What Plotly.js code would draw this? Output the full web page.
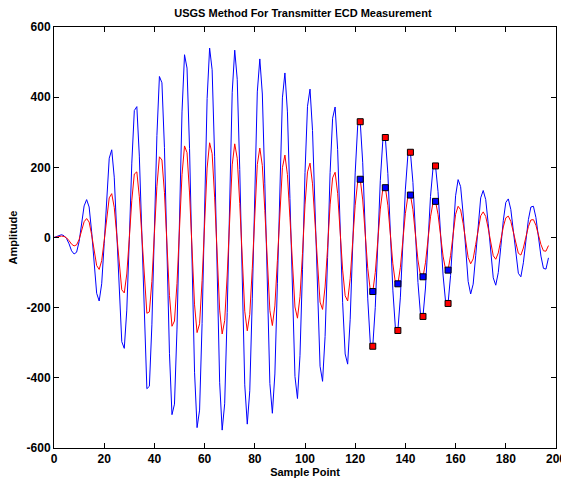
<!DOCTYPE html>
<html>
<head>
<meta charset="utf-8">
<script src="https://cdn.plot.ly/plotly-3.0.1.min.js"></script>
<style>
  html, body { margin: 0; padding: 0; background: #ffffff; }
  #chart { width: 561px; height: 480px; }
</style>
</head>
<body>
<div id="chart"></div>
<script>
// Sample index
const samplePoints = Array.from({length: 198}, (_, i) => i);

// Blue trace (transmitted signal) values
const blueSignal = [
  0, 3, 7, 8, 5, -3, -18, -38, -47, -42,
  -12, 38, 90, 108, 87, 16, -79, -159, -181, -132,
  -17, 121, 226, 250, 172, 13, -167, -297, -316, -207,
  -6, 212, 362, 373, 232, -7, -256, -431, -424, -249,
  21, 291, 459, 441, 256, -39, -330, -505, -475, -261,
  58, 358, 521, 483, 254, -77, -384, -542, -492, -245,
  96, 396, 540, 478, 230, -113, -414, -549, -474, -214,
  129, 414, 534, 451, 194, -145, -420, -532, -437, -175,
  157, 415, 509, 409, 153, -168, -416, -501, -389, -132,
  175, 398, 469, 358, 111, -182, -396, -459, -337, -92,
  185, 374, 423, 305, 74, -188, -367, -410, -282, -57,
  185, 340, 372, 251, 42, -186, -332, -361, -233, -28,
  184, 320, 330, 213, 21, -175, -299, -310, -199, -19,
  162, 276, 285, 183, 18, -150, -257, -265, -170, -17,
  138, 236, 243, 157, 15, -128, -218, -225, -144, -14,
  117, 198, 204, 131, 13, -107, -182, -188, -108, 12,
  119, 165, 145, 67, -37, -125, -161, -133, -52, 41,
  113, 134, 108, 39, -47, -115, -136, -100, -28, 48,
  100, 110, 80, 18, -52, -102, -112, -72, -10, 51,
  87, 89, 57, 3, -53, -88, -90, -58
];

// Red trace (reference signal) values
const redSignal = [
  0, 2, 4, 4, 3, -1, -9, -19, -24, -21,
  -6, 19, 45, 54, 44, 8, -40, -80, -91, -66,
  -9, 61, 113, 125, 86, 7, -84, -149, -158, -104,
  -3, 106, 181, 187, 116, -4, -128, -216, -212, -125,
  11, 146, 230, 221, 128, -20, -165, -253, -238, -131,
  29, 179, 261, 242, 127, -39, -192, -271, -246, -123,
  48, 198, 270, 239, 115, -57, -207, -275, -237, -107,
  65, 207, 267, 226, 97, -73, -210, -266, -219, -88,
  79, 208, 255, 205, 77, -84, -208, -251, -195, -66,
  88, 199, 235, 179, 56, -91, -198, -230, -169, -46,
  93, 187, 212, 153, 37, -94, -184, -205, -141, -29,
  93, 170, 186, 126, 21, -93, -166, -181, -117, -14,
  92, 160, 166, 107, 11, -88, -150, -155, -100, -10,
  81, 138, 143, 92, 9, -75, -129, -133, -85, -9,
  69, 118, 122, 79, 8, -64, -109, -113, -72, -7,
  59, 99, 103, 66, 7, -53, -91, -93, -51, 9,
  66, 89, 79, 40, -12, -57, -75, -61, -20, 27,
  62, 73, 60, 26, -18, -52, -62, -44, -8, 30,
  56, 61, 46, 15, -20, -45, -50, -30, 1, 31,
  50, 51, 35, 8, -20, -38, -39, -23
];

// Marked measurement points
const markerX = [122, 127, 132, 137, 142, 147, 152, 157];
const blueMarkerY = [330, -310, 285, -265, 243, -225, 204, -188];
const redMarkerY = [166, -154, 142, -132, 121, -112, 103, -93];

const titleText = 'USGS Method For Transmitter ECD Measurement';
const xTitle = 'Sample Point';
const yTitle = 'Amplitude';
const xTicks = [0, 20, 40, 60, 80, 100, 120, 140, 160, 180, 200];
const yTicks = [-600, -400, -200, 0, 200, 400, 600];

const fontFamily = '"Liberation Sans", Arial, Helvetica, sans-serif';

const traces = [
  {
    x: samplePoints, y: blueSignal, type: 'scatter', mode: 'lines',
    line: {color: '#0000ff', width: 1}, hoverinfo: 'skip', showlegend: false
  },
  {
    x: samplePoints, y: redSignal, type: 'scatter', mode: 'lines',
    line: {color: '#ff0000', width: 1}, hoverinfo: 'skip', showlegend: false
  },
  {
    x: markerX, y: blueMarkerY, type: 'scatter', mode: 'markers',
    marker: {symbol: 'square', size: 6, color: '#ff0000', line: {color: '#000000', width: 1}},
    hoverinfo: 'skip', showlegend: false
  },
  {
    x: markerX, y: redMarkerY, type: 'scatter', mode: 'markers',
    marker: {symbol: 'square', size: 6, color: '#0000ff', line: {color: '#000000', width: 1}},
    hoverinfo: 'skip', showlegend: false
  }
];

const axisCommon = {
  showgrid: false, zeroline: false, showline: true, mirror: 'ticks',
  linecolor: '#000000', linewidth: 1, ticks: 'inside', ticklen: 5,
  tickcolor: '#000000', tickwidth: 1, ticklabeloverflow: 'allow',
  tickfont: {family: fontFamily, size: 12, color: '#000000', weight: 'bold'}
};

const layout = {
  width: 561, height: 480,
  paper_bgcolor: '#ffffff', plot_bgcolor: '#ffffff',
  margin: {l: 54, r: 5, t: 27, b: 32},
  font: {family: fontFamily, color: '#000000'},
  title: {
    text: titleText,
    font: {family: fontFamily, size: 11, color: '#000000', weight: 'bold'},
    x: 0.54, xanchor: 'center', y: 1 - 13 / 480, yanchor: 'middle', yref: 'container'
  },
  xaxis: Object.assign({}, axisCommon, {
    range: [0, 200], tickvals: xTicks, ticktext: xTicks.map(String),
    title: {text: xTitle, standoff: 2, font: {family: fontFamily, size: 11, color: '#000000', weight: 'bold'}}
  }),
  yaxis: Object.assign({}, axisCommon, {
    range: [-600, 600], tickvals: yTicks, ticktext: yTicks.map(String),
    title: {text: yTitle, standoff: 6, font: {family: fontFamily, size: 11, color: '#000000', weight: 'bold'}}
  })
};

Plotly.newPlot('chart', traces, layout, {staticPlot: true, displayModeBar: false});
</script>
</body>
</html>
